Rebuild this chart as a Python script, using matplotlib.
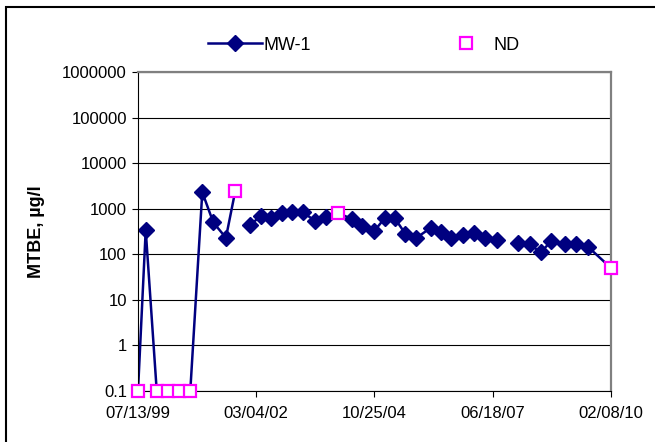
import numpy as np
import matplotlib.pyplot as plt
import matplotlib.dates as mdates
from matplotlib.patches import Rectangle

plt.rcParams['font.family'] = ['Liberation Sans', 'DejaVu Sans']

# sampling dates and MTBE results (ug/l); NaN = no sample (line break)
dates = ["1999-07-13", "1999-09-14", "1999-12-13", "2000-03-11", "2000-06-14",
         "2000-09-12", "2000-12-19", "2001-03-19", "2001-06-30", "2001-09-15",
         "2001-11-14", "2002-01-12", "2002-04-10", "2002-07-03", "2002-09-28",
         "2002-12-24", "2003-03-24", "2003-06-27", "2003-09-22", "2004-01-04",
         "2004-04-27", "2004-07-12", "2004-10-22", "2005-01-17", "2005-04-09",
         "2005-07-05", "2005-10-03", "2006-01-28", "2006-04-25", "2006-07-15",
         "2006-10-19", "2007-01-14", "2007-04-19", "2007-07-26", "2007-10-19",
         "2008-01-11", "2008-04-15", "2008-07-14", "2008-10-09", "2009-01-31",
         "2009-04-30", "2009-08-04", "2010-02-08"]
mtbe = [0.1, 340, 0.1, 0.1, 0.1,
        0.1, 2300, 500, 230, 2500,
        np.nan, 430, 700, 640, 790,
        850, 830, 540, 660, 800,
        590, 420, 320, 620, 620,
        280, 230, 380, 310, 230,
        270, 300, 230, 205, np.nan,
        173, 164, 111, 194, 164,
        164, 146, 50]
non_detect = [True, False, True, True, True,
              True, False, False, False, True,
              False, False, False, False, False,
              False, False, False, False, True,
              False, False, False, False, False,
              False, False, False, False, False,
              False, False, False, False, False,
              False, False, False, False, False,
              False, False, True]

tick_dates = ["1999-07-13", "2002-03-04", "2004-10-25", "2007-06-18", "2010-02-08"]

x = np.array(dates, dtype="datetime64[D]")
y = np.array(mtbe, dtype=float)
nd = np.array(non_detect)
detected = (~nd) & ~np.isnan(y)

fig = plt.figure(figsize=(6.55, 4.42), dpi=100)
ax = fig.add_axes([138 / 655, 1 - 391 / 442, 473 / 655, 319 / 442])

ax.plot(x, y, color="#000080", lw=1.8, marker="D", ms=8, mec="#000080",
        mfc="#000080", markevery=list(detected), label="MW-1")
ax.plot(x[nd], y[nd], ls="none", marker="s", ms=8, mfc="white",
        mec="#FF00FF", mew=1.6, label="ND", clip_on=False, zorder=5)

ax.set_yscale("log")
ax.set_ylim(0.1, 1e6)
ax.set_yticks([0.1, 1, 10, 100, 1000, 10000, 100000, 1000000])
ax.set_yticklabels(["0.1", "1", "10", "100", "1000", "10000", "100000", "1000000"])
ax.yaxis.set_minor_locator(plt.NullLocator())
ax.grid(axis="y", color="black", lw=0.8)

ticks = np.array(tick_dates, dtype="datetime64[D]")
ax.set_xlim(ticks[0], ticks[-1])
ax.set_xticks(ticks)
ax.xaxis.set_major_formatter(mdates.DateFormatter("%m/%d/%y"))

ax.tick_params(labelsize=12, length=4, width=0.8, colors="black", pad=7)
ax.tick_params(axis="y", pad=4)
for side in ["top", "right"]:
    ax.spines[side].set_color("#808080")
    ax.spines[side].set_linewidth(1.6)
for side in ["left", "bottom"]:
    ax.spines[side].set_color("black")
    ax.spines[side].set_linewidth(0.8)

ax.set_ylabel("MTBE, µg/l", fontsize=13, fontweight="bold")
ax.yaxis.set_label_coords(-0.197, 0.5)

fig.legend(loc="center left", bbox_to_anchor=(199 / 655, 1 - 45 / 442), ncol=2,
           frameon=False, fontsize=13, borderpad=0, columnspacing=7.1,
           handlelength=3.0, handletextpad=0.05)

fig.patches.append(Rectangle((6 / 655, -0.1), 1.1, 1 - 7 / 442 + 0.1,
                             transform=fig.transFigure, fill=False,
                             edgecolor="black", lw=1.5))

fig.savefig("out.png", dpi=100)
